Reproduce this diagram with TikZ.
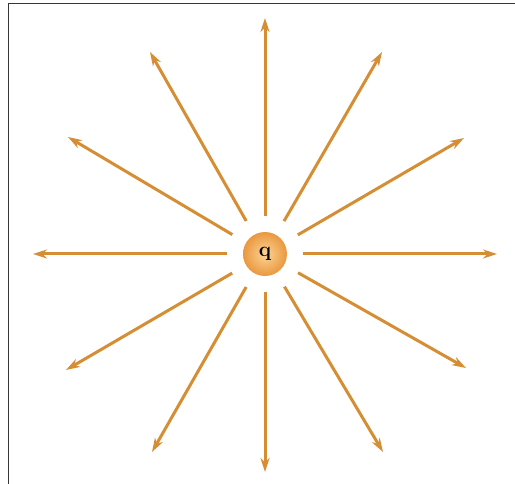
\documentclass[tikz,border=0pt]{standalone}
\usetikzlibrary{arrows.meta,calc}
\definecolor{fieldor}{RGB}{214,142,52}
\definecolor{chargein}{RGB}{252,212,150}
\definecolor{chargeout}{RGB}{234,152,62}
\definecolor{framegray}{RGB}{55,55,55}
\tikzset{
  fieldline/.style={draw=fieldor, line width=3pt, -{Stealth[length=14pt,width=9pt]}},
  charge/.style={circle, minimum size=44pt, inner sep=0pt, inner color=chargein, outer color=chargeout, font=\huge\bfseries},
  framing/.style={draw=framegray, line width=1.8pt}
}
\begin{document}
\begin{tikzpicture}[x=1pt,y=-1pt]
\useasboundingbox (0,0) rectangle (515,484);
\fill[white] (0,0) rectangle (515,484);
\coordinate (fa) at (8.5,484);
\coordinate (fb) at (8.5,3.5);
\coordinate (fc) at (515,3.5);
\draw[framing] (fa) -- (fb) -- (fc);
\node[charge] (c) at (265,254) {\raisebox{3pt}{q}};
\coordinate (e0) at (497,254);
\coordinate (e30) at (464,138);
\coordinate (e60) at (382,52);
\coordinate (e90) at (265,18);
\coordinate (e120) at (150,52);
\coordinate (e150) at (68,137);
\coordinate (e180) at (33,254);
\coordinate (e210) at (66,370);
\coordinate (e240) at (152,452);
\coordinate (e270) at (265,472);
\coordinate (e300) at (383,452);
\coordinate (e330) at (466,368);
\foreach \a in {0,30,...,330}{
  \draw[fieldline] ($(c)!38pt!(e\a)$) -- (e\a);
}
\end{tikzpicture}
\end{document}
